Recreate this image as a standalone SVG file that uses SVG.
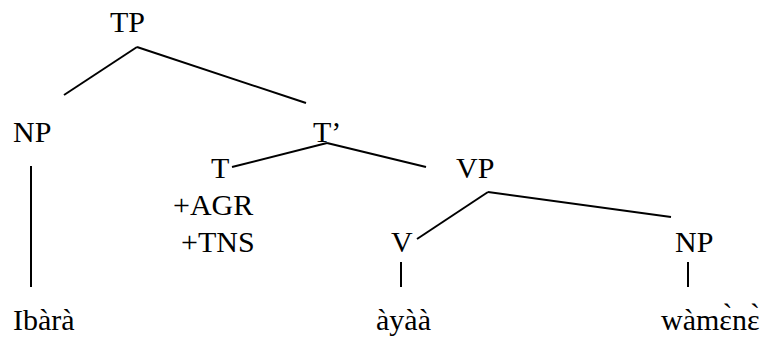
<svg xmlns="http://www.w3.org/2000/svg" width="769" height="340" viewBox="0 0 769 340">
<rect width="769" height="340" fill="#fff"/>
<g id="connectors" stroke="#000" stroke-width="2" fill="none">
<line x1="137" y1="47" x2="64" y2="95"/>
<line x1="137" y1="47" x2="306" y2="103"/>
<line x1="31" y1="166" x2="31" y2="287"/>
<line x1="327" y1="143" x2="232" y2="167"/>
<line x1="327" y1="143" x2="426" y2="167"/>
<line x1="488" y1="192" x2="417" y2="239"/>
<line x1="488" y1="192" x2="671" y2="217"/>
<line x1="401" y1="262" x2="401" y2="287"/>
<line x1="688" y1="262" x2="688" y2="287"/>
</g>
<g id="TP"><text x="110" y="32" font-family="Liberation Serif" font-size="30">TP</text></g>
<g id="NP1"><text x="13" y="142" font-family="Liberation Serif" font-size="30">NP</text></g>
<g id="Tbar"><text x="313" y="142" font-family="Liberation Serif" font-size="30">T’</text></g>
<g id="T"><text x="211" y="178" font-family="Liberation Serif" font-size="30">T</text><text x="173" y="215" font-family="Liberation Serif" font-size="30">+AGR</text><text x="181" y="252" font-family="Liberation Serif" font-size="30">+TNS</text></g>
<g id="VP"><text x="456" y="178" font-family="Liberation Serif" font-size="30">VP</text></g>
<g id="V"><text x="391" y="252" font-family="Liberation Serif" font-size="30">V</text></g>
<g id="NP2"><text x="675" y="252" font-family="Liberation Serif" font-size="30">NP</text></g>
<g id="w1"><text x="13" y="330" font-family="Liberation Serif" font-size="30">Ibàrà</text></g>
<g id="w2"><text x="376" y="330" font-family="Liberation Serif" font-size="30">àyàà</text></g>
<g id="w3"><text x="661" y="330" font-family="Liberation Serif" font-size="30">wàm&#x25B;&#x300;n&#x25B;&#x300;</text></g>
</svg>
